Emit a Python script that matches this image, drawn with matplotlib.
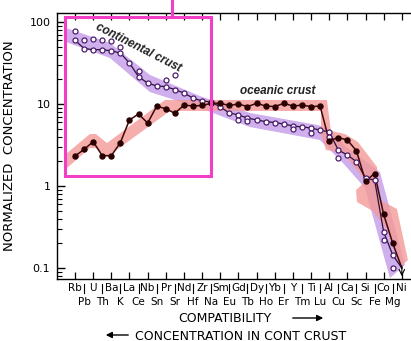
import numpy as np
import matplotlib
matplotlib.use('Agg')
import matplotlib.pyplot as plt
from matplotlib.ticker import LogLocator, NullFormatter
from matplotlib.patches import Rectangle, FancyArrowPatch

# element order (compatibility increasing to the right)
top_row = ['Rb', 'U', 'Ba', 'La', 'Nb', 'Pr', 'Nd', 'Zr', 'Sm', 'Gd', 'Dy', 'Yb',
           'Y', 'Ti', 'Al', 'Ca', 'Si', 'Co', 'Ni']
bottom_row = ['Pb', 'Th', 'K', 'Ce', 'Sn', 'Sr', 'Hf', 'Na', 'Eu', 'Tb', 'Ho', 'Er',
              'Tm', 'Lu', 'Cu', 'Sc', 'Fe', 'Mg']

# continental crust (connected open circles)
cont = [60, 47.5, 46, 46, 44.5, 41.8, 31.6, 21.5, 18, 16.6, 16.3, 15, 13.6, 11.8,
        10.9, 10.6, 9.2, 7.8, 7.35, 6.75, 6.4, 6.1, 5.95, 5.7, 5.4, 5.25, 5.1, 4.8,
        4.56, 2.75, 2.39, 1.98, 1.25, 1.18, 0.275, 0.144, 0.1]
# second set of open circles (other estimates)
nan = np.nan
cont_alt = [78, 60, 62, 60, 59, 49.5, nan, 25.3, nan, nan, 19.6, 22.6, nan, nan,
            nan, nan, nan, nan, 6.4, 6.2, nan, nan, nan, nan, 4.95, nan, 4.43, nan,
            3.96, 2.19, nan, nan, nan, nan, 0.22, 0.1, nan]
# oceanic crust (filled dots)
ocean = [2.32, 2.8, 3.47, 2.35, 2.34, 3.39, 6.4, 7.55, 5.86, 9.4, 8.77, 7.7, 9.7,
         9.46, 9.6, 10.2, 10.2, 9.6, 10.0, 9.3, 10.2, 9.45, 9.3, 10.2, 9.45, 9.7,
         9.3, 9.45, 3.55, 3.9, 3.64, 2.69, 1.15, 1.42, 0.45, 0.2, 0.1]

# shaded ranges (polygon outlines, element index / concentration)
cont_band_x = [-0.99, 3.85, 8.26, 13.77, 19.27, 26.76, 28.08, 29.74, 33.59, 36.34,
               34.69, 31.94, 29.52, 26.98, 19.27, 13.77, 8.26, 3.85, -0.99]
cont_band_y = [84.5, 55.5, 22.6, 12.5, 7.77, 5.54, 4.82, 3.08, 1.48, 0.109,
               0.0755, 0.946, 1.905, 3.64, 5.24, 8.93, 14.0, 36.4, 57]
ocean_band_x = [-0.88, 1.65, 2.31, 3.52, 9.91, 27.75, 28.19, 29.74, 31.17, 33.26,
                33.59, 35.46, 36.67, 35.79, 34.36, 32.82, 31.06, 30.95, 32.05,
                29.52, 27.64, 27.09, 27.09, 10.46, 3.52, 2.31, 1.65, -0.88]
ocean_band_y = [2.52, 4.31, 4.31, 3.34, 11.2, 11.2, 4.69, 4.31, 3.44, 1.71,
                0.675, 0.525, 0.125, 0.103, 0.29, 0.495, 0.638, 0.893, 1.15,
                2.52, 2.75, 4.31, 8.22, 8.22, 2.26, 2.9, 2.9, 1.66]

x = np.arange(len(cont))

fig = plt.figure(figsize=(4.11, 3.41), dpi=100)
ax = fig.add_axes([57.3 / 411, 1 - 279 / 341, (410 - 57.3) / 411, 266 / 341])

ax.fill(cont_band_x, cont_band_y, color='#c59be9', alpha=0.8, lw=0, zorder=1)
ax.fill(ocean_band_x, ocean_band_y, color='#f39a96', alpha=0.8, lw=0, zorder=1.5)

ax.plot(x, cont, color='#2b0f3d', lw=0.9, zorder=3)
ax.plot(x[:-1], cont[:-1], 'o', ms=3.6, mfc='white', mec='#4b1d6e', mew=0.9, zorder=4)
ax.plot(x, cont_alt, 'o', ms=3.6, mfc='white', mec='#4b1d6e', mew=0.9, zorder=4)
ax.plot(x, ocean, color='#3d0808', lw=1.1, zorder=3)
ax.plot(x[:-1], ocean[:-1], 'o', ms=3.6, color='#2a0000', zorder=4)
ax.annotate('', xy=(36, 10 ** -1.134), xytext=(36, 0.115),
            arrowprops=dict(arrowstyle='->', lw=0.8, color='k'), annotation_clip=False)

ax.set_yscale('log')
ax.set_ylim(10 ** -1.134, 10 ** 2.11)
ax.set_xlim(-1.95, 36.9)
ax.set_yticks([0.1, 1, 10, 100])
ax.set_yticklabels(['0.1', '1', '10', '100'])
ax.yaxis.set_minor_locator(LogLocator(base=10, subs=np.arange(2, 10)))
ax.yaxis.set_minor_formatter(NullFormatter())
ax.tick_params(axis='y', which='major', direction='in', length=6, width=1,
               labelsize=8, pad=5, right=False)
ax.tick_params(axis='y', which='minor', direction='in', length=3.5, width=0.8, right=False)
ax.set_xticks(range(0, 37, 2))
ax.tick_params(axis='x', direction='in', length=5, width=0.9, top=True,
               labelbottom=False)
ax.spines['right'].set_visible(False)
for s in ['left', 'bottom', 'top']:
    ax.spines[s].set_linewidth(1)

tr = ax.get_xaxis_transform()
for i, name in enumerate(top_row):
    ax.text(2 * i, -0.034, name, transform=tr, ha='center', va='center', fontsize=7.5)
for i, name in enumerate(bottom_row):
    ax.text(2 * i + 1, -0.0865, name, transform=tr, ha='center', va='center', fontsize=7.5)
    ax.plot([2 * i + 1] * 2, [-0.019, -0.052], transform=tr, color='k', lw=0.8,
            clip_on=False)

ax.text(6.94, 48.2, 'continental crust', rotation=-27, ha='center', va='center',
        fontsize=8.5, fontweight='bold', fontstyle='italic', family='Liberation Sans',
        color='#222222', zorder=5)
ax.text(22.36, 14.4, 'oceanic crust', ha='center', va='center', fontsize=8.5,
        fontweight='bold', fontstyle='italic', family='Liberation Sans',
        color='#222222', zorder=5)

# highlighted region
ax.add_patch(Rectangle((-1.1, 1.335), 16.04, 114 - 1.335, fill=False,
                       edgecolor='#f23fc6', lw=2.2, clip_on=False, zorder=6))
ax.plot([10.68, 10.68], [114, 200], color='#f23fc6', lw=2.2, clip_on=False, zorder=6)

fig.text(10 / 411, 1 - 146 / 341, 'NORMALIZED  CONCENTRATION', rotation=90,
         ha='center', va='center', fontsize=9.5)
fig.text(225 / 411, 1 - 318 / 341, 'COMPATIBILITY', ha='center', va='center', fontsize=9)
fig.add_artist(FancyArrowPatch((290 / 411, 1 - 318 / 341), (326 / 411, 1 - 318 / 341),
                               transform=fig.transFigure, arrowstyle='-|>',
                               mutation_scale=9, lw=1, color='k'))
fig.text(135 / 411, 1 - 339.5 / 341, 'CONCENTRATION IN CONT CRUST', ha='left',
         va='baseline', fontsize=9)
fig.add_artist(FancyArrowPatch((131 / 411, 1 - 335 / 341), (103 / 411, 1 - 335 / 341),
                               transform=fig.transFigure, arrowstyle='-|>',
                               mutation_scale=9, lw=1, color='k'))

fig.savefig('out.png', dpi=100)
